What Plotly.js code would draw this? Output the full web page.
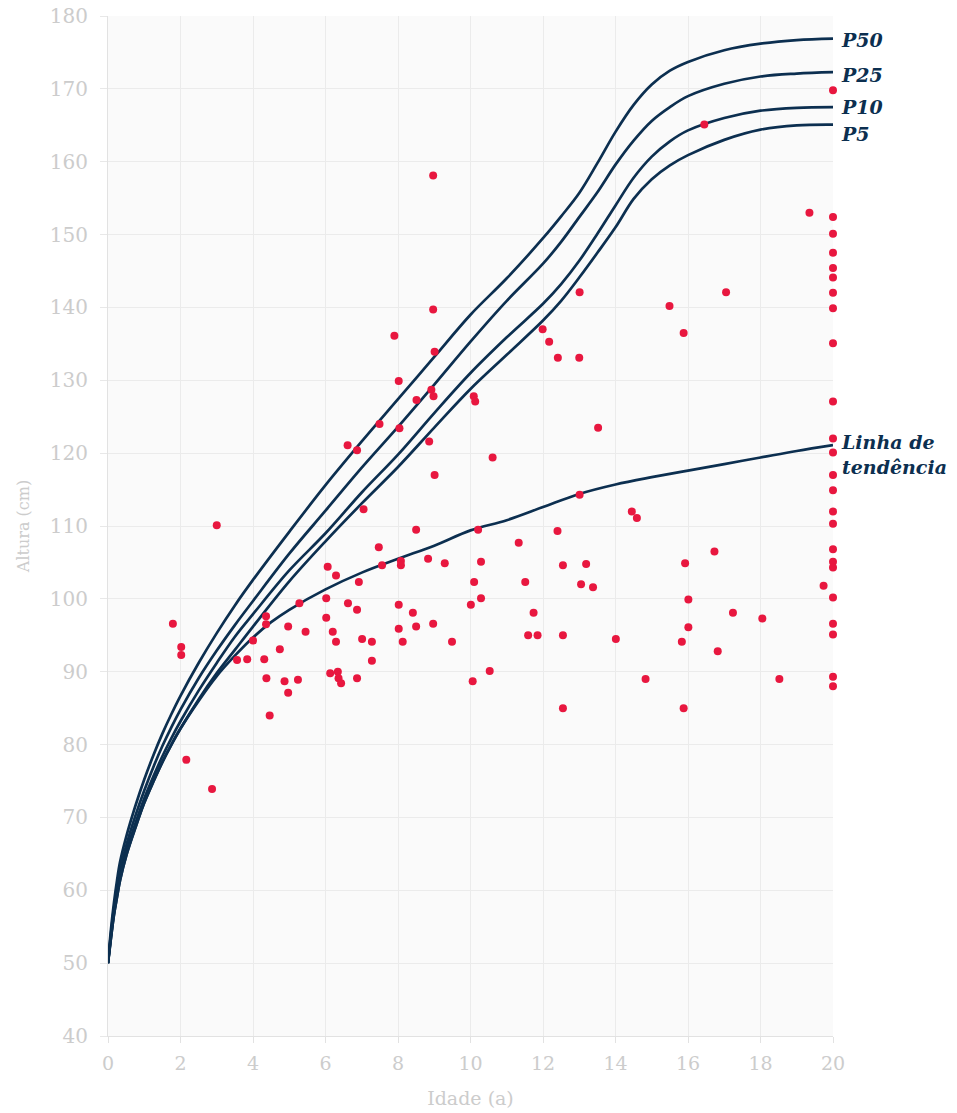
<!DOCTYPE html>
<html>
<head>
<meta charset="utf-8">
<script src="https://cdn.plot.ly/plotly-3.0.1.min.js"></script>
<style>
  html, body { margin: 0; padding: 0; background: #ffffff; }
  #chart { width: 957px; height: 1113px; }
</style>
</head>
<body>
<div id="chart"></div>
<script>
// Ages (years) for the reference curves
const curveAges = [0, 0.083, 0.167, 0.25, 0.333, 0.5, 0.75, 1, 1.25, 1.5, 1.75, 2, 2.5, 3, 3.5, 4, 5, 6, 7, 8, 9, 10, 11, 12, 12.5, 13, 13.5, 14, 14.5, 15, 15.5, 16, 17, 18, 19, 20];
const p50 = [50, 54.7, 58.4, 61.4, 63.9, 67.3, 71.5, 75.2, 78.5, 81.5, 84.2, 86.7, 91.2, 95.3, 99.1, 102.6, 109.2, 115.6, 121.6, 127.4, 133.2, 139.0, 144.0, 149.5, 152.5, 155.7, 159.8, 164.1, 167.8, 170.6, 172.5, 173.7, 175.3, 176.2, 176.7, 176.9];
const p25 = [50, 54.1, 57.6, 60.4, 62.8, 66.1, 70.15, 73.7, 76.9, 79.8, 82.4, 84.8, 89.1, 92.9, 96.4, 99.7, 106.2, 112.1, 118.0, 123.6, 129.4, 135.3, 140.9, 146.0, 149.0, 152.4, 155.8, 159.6, 162.9, 165.6, 167.5, 169.0, 170.7, 171.7, 172.1, 172.3];
const p10 = [50, 53.7, 57.0, 59.6, 61.9, 65.2, 69.1, 72.6, 75.6, 78.4, 80.9, 83.2, 87.4, 91.2, 94.8, 97.9, 103.9, 109.0, 114.6, 119.8, 125.5, 131.0, 135.9, 140.5, 143.2, 146.4, 150.1, 154.0, 157.8, 160.7, 162.8, 164.3, 166.0, 167.0, 167.4, 167.5];
const p5  = [50, 53.5, 56.7, 59.1, 61.4, 64.7, 68.5, 72.0, 74.9, 77.6, 80.0, 82.2, 86.2, 89.8, 93.0, 96.2, 102.4, 107.9, 113.1, 118.1, 123.5, 128.8, 133.5, 138.2, 140.9, 144.1, 147.5, 151.0, 154.9, 157.6, 159.5, 160.9, 163.0, 164.4, 165.0, 165.1];

// Trend line
const trendAges = [0, 0.083, 0.167, 0.25, 0.333, 0.5, 0.75, 1, 1.25, 1.5, 1.75, 2, 2.5, 3, 3.5, 4, 4.5, 5, 6, 7, 8, 9, 10, 11, 12, 13, 14, 15, 16, 17, 18, 19, 20];
const trendVals = [50, 53.5, 56.7, 59.1, 61.4, 64.7, 68.5, 72.0, 74.9, 77.6, 80.0, 82.2, 86.0, 89.4, 92.2, 94.7, 96.8, 98.5, 101.3, 103.6, 105.5, 107.3, 109.4, 110.8, 112.6, 114.4, 115.7, 116.7, 117.6, 118.5, 119.4, 120.3, 121.1];

// Observed patients: age (a) and height (cm)
const obsAge = [
  1.79, 2.02, 2.02, 2.16, 2.87, 3.0, 3.56, 3.84, 4.0, 4.31, 4.36, 4.36, 4.37, 4.46, 4.74, 4.87, 4.97, 4.97, 5.24, 5.28,
  5.45, 6.02, 6.02, 6.06, 6.13, 6.20, 6.29, 6.29, 6.34, 6.36, 6.43, 6.61, 6.62, 6.87, 6.87, 6.87, 6.92, 7.01, 7.05, 7.28,
  7.28, 7.47, 7.49, 7.56, 7.90, 8.02, 8.02, 8.02, 8.04, 8.08, 8.08, 8.13, 8.41, 8.50, 8.50, 8.51, 8.83, 8.86, 8.92, 8.97,
  8.97, 8.97, 8.98, 9.01, 9.01, 9.29, 9.49, 10.01, 10.06, 10.09, 10.10, 10.13, 10.21, 10.29, 10.29, 10.53, 10.61, 11.33, 11.51, 11.59,
  11.74, 11.85, 11.99, 12.17, 12.40, 12.41, 12.55, 12.55, 12.55, 13.0, 13.01, 13.01, 13.05, 13.19, 13.38, 13.52, 14.01, 14.45, 14.59, 14.83,
  15.49, 15.83, 15.88, 15.88, 15.92, 16.01, 16.01, 16.45, 16.73, 16.82, 17.05, 17.24, 18.05, 18.52, 19.35, 19.74,
  20, 20, 20, 20, 20, 20, 20, 20, 20, 20, 20, 20, 20, 20, 20, 20, 20, 20, 20, 20, 20, 20, 20, 20
];
const obsHeight = [
  96.6, 93.4, 92.3, 77.9, 73.9, 110.1, 91.6, 91.7, 94.3, 91.7, 97.6, 96.5, 89.1, 84.0, 93.1, 88.7, 96.2, 87.1, 88.9, 99.4,
  95.5, 97.4, 100.1, 104.4, 89.8, 95.5, 103.2, 94.1, 90.0, 89.1, 88.4, 121.1, 99.4, 120.4, 98.5, 89.1, 102.3, 94.5, 112.3, 94.1,
  91.5, 107.1, 124.0, 104.6, 136.1, 129.9, 99.2, 95.9, 123.4, 105.2, 104.6, 94.1, 98.1, 109.5, 96.2, 127.3, 105.5, 121.6, 128.7, 139.7,
  158.1, 96.6, 127.8, 133.9, 117.0, 104.9, 94.1, 99.2, 88.7, 127.8, 102.3, 127.1, 109.5, 105.1, 100.1, 90.1, 119.4, 107.7, 102.3, 95.0,
  98.1, 95.0, 137.0, 135.3, 109.3, 133.1, 104.6, 95.0, 85.0, 133.1, 142.1, 114.3, 102.0, 104.8, 101.6, 123.5, 94.5, 112.0, 111.1, 89.0,
  140.2, 94.1, 136.5, 85.0, 104.9, 99.9, 96.1, 165.1, 106.5, 92.8, 142.1, 98.1, 97.3, 89.0, 153.0, 101.8,
  169.8, 152.4, 150.1, 147.5, 145.4, 144.1, 142.0, 139.9, 135.1, 127.1, 122.0, 120.1, 117.0, 114.9, 112.0, 110.3, 106.8, 105.1, 104.3, 100.2, 96.6, 95.1, 89.3, 88.0
];

const xTicks = [0, 2, 4, 6, 8, 10, 12, 14, 16, 18, 20];
const yTicks = [40, 50, 60, 70, 80, 90, 100, 110, 120, 130, 140, 150, 160, 170, 180];

const curveLabels = [
  { text: 'P50', y: 176.7 },
  { text: 'P25', y: 171.9 },
  { text: 'P10', y: 167.5 },
  { text: 'P5',  y: 163.8 },
  { text: 'Linha de<br>tendência', y: 119.8 }
];

const navy = '#0c2f50';
const red = '#e8173f';
const serif = 'DejaVu Serif, serif';

function curve(x, y) {
  return {
    x: x, y: y, type: 'scatter', mode: 'lines',
    line: { color: navy, width: 2.7, shape: 'spline', smoothing: 1 },
    hoverinfo: 'skip', cliponaxis: false, showlegend: false
  };
}

const data = [
  curve(curveAges, p50),
  curve(curveAges, p25),
  curve(curveAges, p10),
  curve(curveAges, p5),
  curve(trendAges, trendVals),
  {
    x: obsAge, y: obsHeight, type: 'scatter', mode: 'markers',
    marker: { color: red, size: 8, line: { width: 0 } },
    cliponaxis: false, hoverinfo: 'skip', showlegend: false
  }
];

const layout = {
  width: 957, height: 1113,
  margin: { l: 108, r: 124, t: 16, b: 77 },
  paper_bgcolor: '#ffffff',
  plot_bgcolor: '#fafafa',
  showlegend: false,
  xaxis: {
    range: [0, 20], tickvals: xTicks, ticktext: xTicks.map(String),
    showgrid: true, gridcolor: '#ebebeb', gridwidth: 1,
    zeroline: false, showline: true, linecolor: '#e2e2e2', linewidth: 1,
    ticks: 'outside', ticklen: 6, tickcolor: '#e2e2e2',
    ticklabelstandoff: 4,
    tickfont: { family: serif, size: 19, color: '#cccccc' },
    title: { text: 'Idade (a)', font: { family: serif, size: 19, color: '#cccccc' }, standoff: 18 }
  },
  yaxis: {
    range: [40, 180], tickvals: yTicks, ticktext: yTicks.map(String),
    showgrid: true, gridcolor: '#ebebeb', gridwidth: 1,
    zeroline: false, showline: true, linecolor: '#e2e2e2', linewidth: 1,
    ticks: 'outside', ticklen: 7, tickcolor: '#e8e8e8',
    ticklabelstandoff: 8,
    tickfont: { family: serif, size: 20, color: '#cccccc' },
    title: { text: 'Altura (cm)', font: { family: serif, size: 16, color: '#cccccc' }, standoff: 16 }
  },
  annotations: curveLabels.map(l => ({
    x: 20, y: l.y, xref: 'x', yref: 'y',
    text: l.text, showarrow: false,
    xanchor: 'left', yanchor: 'middle', align: 'left',
    xshift: 6,
    font: { family: serif, size: 19, color: navy, weight: 'bold', style: 'italic' }
  }))
};

Plotly.newPlot('chart', data, layout, { staticPlot: true, displayModeBar: false });
</script>
</body>
</html>
